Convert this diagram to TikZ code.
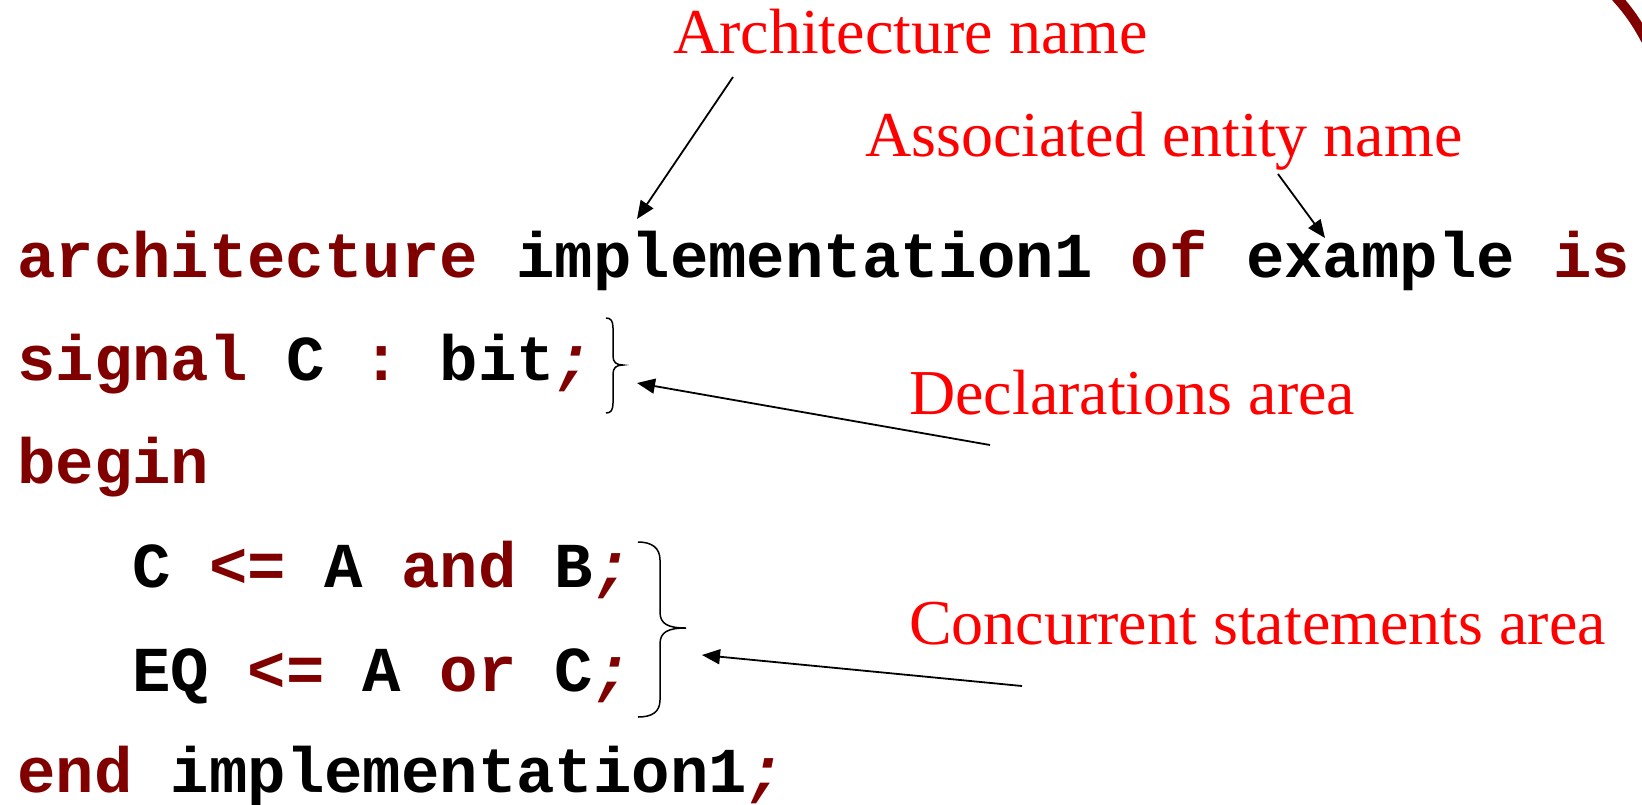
\documentclass[tikz,border=0pt]{standalone}
\usepackage{fontspec}
\usetikzlibrary{arrows.meta}

\newfontfamily\codefont{Liberation Mono}
\newfontfamily\notefont{Liberation Serif}

% keywords and semicolons in dark red
\newcommand{\kw}[1]{\textcolor{vhdlkw}{#1}}
\newcommand{\semi}{\textcolor{vhdlkw}{\itshape;}}

\begin{document}
\begin{tikzpicture}[x=1pt,y=-1pt,
    codeline/.style={anchor=base west, inner sep=0pt,
        font=\codefont\bfseries\fontsize{64}{64}\selectfont},
    notetext/.style={anchor=base west, inner sep=0pt, text=notered,
        font=\notefont\fontsize{64}{64}\selectfont},
    pointer/.style={-{Triangle[length=18pt,width=15pt]}, line width=1.8pt},
    curly/.style={line width=1.5pt}]

        % colours
        \definecolor{vhdlkw}{RGB}{128, 0, 0}
        \definecolor{notered}{RGB}{255, 0, 0}

        \useasboundingbox (0,0) rectangle (1642,804);

        % the code, one node per line
        \node[codeline] (line1) at (17,277) {\kw{architecture} implementation1 \kw{of} example \kw{is}};
        \node[codeline] (line2) at (17,380) {\kw{signal} C \kw{:} bit\semi};
        \node[codeline] (line3) at (17,483) {\kw{begin}};
        \node[codeline] (line4) at (17,587) {\hphantom{xxx}C \kw{<=} A \kw{and} B\semi};
        \node[codeline] (line5) at (17,691) {\hphantom{xxx}EQ \kw{<=} A \kw{or} C\semi};
        \node[codeline] (line6) at (17,792) {\kw{end} implementation1\semi};

        % red notes
        \node[notetext] (archname) at (673,53) {Architecture name};
        \node[notetext] (entityname) at (865,156) {Associated entity name};
        \node[notetext] (declarea) at (909,414) {Declarations area};
        \node[notetext] (concarea) at (909,644) {Concurrent statements area};

        % arrow ends
        \coordinate (archfrom) at (733,77);
        \coordinate (archto) at (637,219);
        \coordinate (entityfrom) at (1278,174);
        \coordinate (entityto) at (1325,238);
        \coordinate (declfrom) at (990,445);
        \coordinate (declto) at (637,383);
        \coordinate (concfrom) at (1022,686);
        \coordinate (concto) at (702,655);

        \draw[pointer] (archfrom) -- (archto);
        \draw[pointer] (entityfrom) -- (entityto);
        \draw[pointer] (declfrom) -- (declto);
        \draw[pointer] (concfrom) -- (concto);

        % braces
        \draw[curly] (606,318) .. controls (611,318) and (613,321) .. (613,328) -- (613,356)
            .. controls (613,362) and (616,365) .. (623,365)
            .. controls (616,365) and (613,368) .. (613,374) -- (613,403)
            .. controls (613,410) and (611,413) .. (606,413);
        \draw[curly] (638,542) .. controls (652,542) and (660,548) .. (660,560) -- (660,612)
            .. controls (660,624) and (668,628) .. (686,628)
            .. controls (668,628) and (660,632) .. (660,644) -- (660,700)
            .. controls (660,712) and (652,717) .. (638,717);

        % corner of the frame
        \draw[vhdlkw, line width=10pt] (1616,-3) .. controls (1627,9) and (1636,21) .. (1646,40);

    \end{tikzpicture}
\end{document}
